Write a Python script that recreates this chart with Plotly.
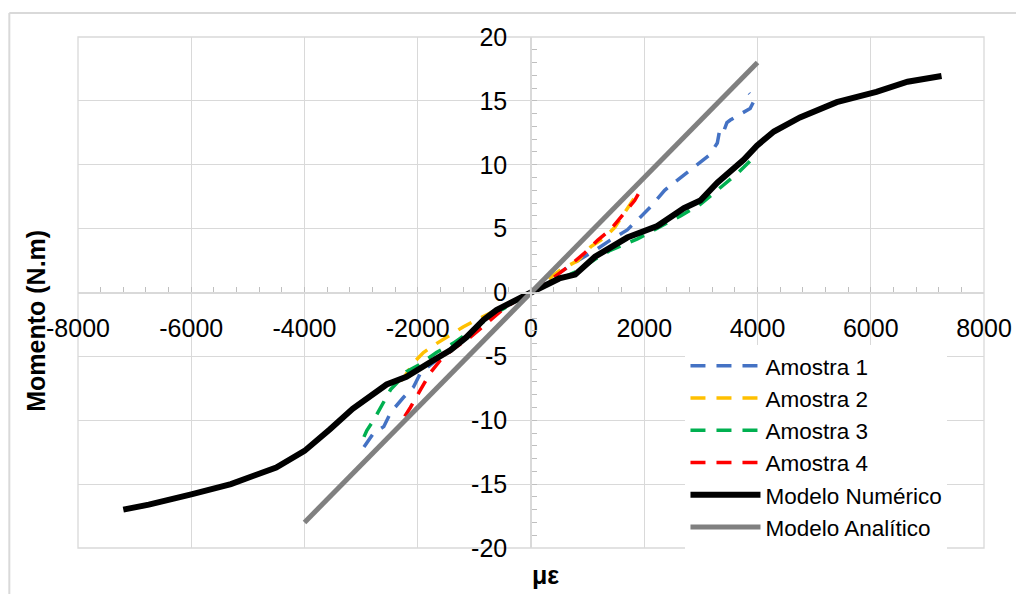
import plotly.graph_objects as go

# ---- data ----
a1_x = [-2950, -2780, -2600, -2480, -2250, -2075, -1950, -1670, -1300, -950, -650, -370, 0,
        350, 830, 1130, 1400, 1700, 1930, 2110, 2360, 2640, 2940, 3160, 3290, 3340, 3410, 3460,
        3520, 3590, 3730, 3870, 3900, 3950, 3850]
a1_y = [-12.1, -11.0, -10.5, -9.4, -8.2, -7.4, -6.3, -5.3, -3.9, -2.7, -1.8, -0.8, 0,
        1.1, 2.5, 3.3, 4.1, 4.9, 5.9, 6.7, 8.0, 9.0, 10.0, 10.8, 11.7, 12.9, 12.7, 13.3,
        13.5, 13.7, 14.05, 14.4, 14.7, 15.1, 15.6]

a2_x = [-2300, -2250, -2075, -1900, -1670, -1420, -1200, -900, -500, 0,
        530, 830, 1060, 1300, 1480, 1700, 1870]
a2_y = [-6.9, -6.7, -5.5, -4.7, -4.0, -3.3, -2.7, -2.0, -1.1, 0,
        1.8, 2.5, 3.6, 4.3, 5.1, 6.5, 7.7]

a3_x = [-2950, -2900, -2780, -2655, -2480, -2370, -2200, -1990, -1670, -1370, -970, -615, 0,
        500, 830, 1130, 1400, 1880, 2230, 2640, 2990, 3340, 3640, 3870, 3990]
a3_y = [-11.3, -10.8, -10.0, -9.0, -7.6, -7.1, -6.2, -5.7, -4.7, -3.96, -2.7, -1.6, 0,
        1.0, 1.7, 2.6, 3.3, 4.2, 5.0, 6.0, 6.9, 8.2, 9.3, 10.3, 10.5]

a4_x = [-2230, -2130, -1950, -1780, -1600, -1370, -1070, -720, -490, -250, 0,
        350, 650, 950, 1180, 1400, 1650, 1830, 1970]
a4_y = [-9.7, -9.0, -7.6, -6.3, -5.3, -4.4, -3.5, -2.15, -1.3, -0.6, 0,
        1.0, 2.0, 3.1, 4.1, 4.9, 6.2, 7.2, 8.3]

num_x = [-7200, -6750, -6000, -5300, -4500, -4000, -3550, -3150, -2550, -2200, -1760, -1420,
         -1140, -840, -610, -370, 0, 500, 780, 1130, 1700, 2230, 2700, 2990, 3290, 3760, 3990,
         4290, 4750, 5400, 6100, 6650, 7250]
num_y = [-17.0, -16.6, -15.8, -15.0, -13.7, -12.4, -10.7, -9.1, -7.2, -6.6, -5.4, -4.5,
         -3.5, -2.15, -1.37, -0.8, 0, 1.1, 1.4, 2.8, 4.3, 5.2, 6.6, 7.2, 8.6, 10.4, 11.5,
         12.6, 13.7, 14.9, 15.7, 16.5, 16.95]

ana_x = [-4000, 0, 4000]
ana_y = [-18, 0, 18]

x_tickvals = [-8000, -6000, -4000, -2000, 0, 2000, 4000, 6000, 8000]
x_ticktext = ["-8000", "-6000", "-4000", "-2000", "0", "2000", "4000", "6000", "8000"]
y_tickvals = [-20, -15, -10, -5, 0, 5, 10, 15, 20]
y_ticktext = ["-20", "-15", "-10", "-5", "0", "5", "10", "15", "20"]

names = ["Amostra 1", "Amostra 2", "Amostra 3", "Amostra 4", "Modelo Numérico", "Modelo Analítico"]
colors = ["#4472C4", "#FFC000", "#00B050", "#FF0000", "#000000", "#808080"]

FONT = "Arial, Liberation Sans, sans-serif"

fig = go.Figure()
series = [(a1_x, a1_y), (a2_x, a2_y), (a3_x, a3_y), (a4_x, a4_y)]
for (xs, ys), nm, c in zip(series, names[:4], colors[:4]):
    fig.add_trace(go.Scatter(x=xs, y=ys, mode="lines", name=nm,
                             line=dict(color=c, width=3.5, dash="15px,11px")))
fig.add_trace(go.Scatter(x=num_x, y=num_y, mode="lines", name=names[4],
                         line=dict(color=colors[4], width=6)))
fig.add_trace(go.Scatter(x=ana_x, y=ana_y, mode="lines", name=names[5],
                         line=dict(color=colors[5], width=5)))

grid = "#d9d9d9"
fig.update_layout(
    width=1016, height=586,
    margin=dict(l=70, r=36, t=29, b=46),
    paper_bgcolor="white", plot_bgcolor="white",
    font=dict(family=FONT, color="#000000"),
    showlegend=True,
    legend=dict(x=0.6705, y=0.398, xanchor="left", yanchor="top",
                bgcolor="white", borderwidth=0,
                font=dict(family=FONT, size=22.5, color="#000000"),
                itemwidth=70, tracegroupgap=0),
    xaxis=dict(range=[-8000, 8000], tickvals=x_tickvals, ticktext=x_ticktext, domain=[0, 1],
               anchor="free", position=0.5,
               showgrid=True, gridcolor=grid, gridwidth=1.3,
               zeroline=False, showline=True, linecolor=grid, linewidth=1.5,
               ticks="inside", ticklen=5, tickcolor="#bfbfbf",
               minor=dict(dtick=400, tick0=0, ticks="inside", ticklen=5, tickcolor="#bfbfbf", showgrid=False),
               tickfont=dict(family=FONT, size=25, color="#000000"),
               ticklabelstandoff=14),
    yaxis=dict(range=[-20, 20], tickvals=y_tickvals, ticktext=y_ticktext, domain=[0, 1],
               anchor="free", position=0.5,
               showgrid=True, gridcolor=grid, gridwidth=1.3,
               zeroline=False, showline=True, linecolor=grid, linewidth=1.5,
               ticks="inside", ticklen=5, tickcolor="#bfbfbf",
               minor=dict(dtick=1, tick0=0, ticks="inside", ticklen=5, tickcolor="#bfbfbf", showgrid=False),
               tickfont=dict(family=FONT, size=25, color="#000000"),
               ticklabelstandoff=18),
    annotations=[
        dict(text="<b>Momento (N.m)</b>", xref="paper", yref="paper",
             x=-0.0473, y=0.445, xanchor="center", yanchor="middle",
             textangle=-90, showarrow=False,
             font=dict(family=FONT, size=25, color="#000000")),
        dict(text="<b>με</b>", xref="paper", yref="paper",
             x=0.5165, y=-0.053, xanchor="center", yanchor="middle", showarrow=False,
             font=dict(family=FONT, size=25, color="#000000")),
    ],
    shapes=[
        dict(type="rect", xref="paper", yref="paper", x0=0, x1=1, y0=0, y1=1,
             line=dict(color=grid, width=1.3), layer="below"),
        dict(type="line", xref="paper", yref="paper", x0=-0.0758, x1=1.05, y0=1.047, y1=1.047,
             line=dict(color="#d9d9d9", width=2)),
        dict(type="line", xref="paper", yref="paper", x0=-0.0758, x1=-0.0758, y0=1.047, y1=-0.1,
             line=dict(color="#d9d9d9", width=2)),
    ],
)

fig.write_html("out.html")
